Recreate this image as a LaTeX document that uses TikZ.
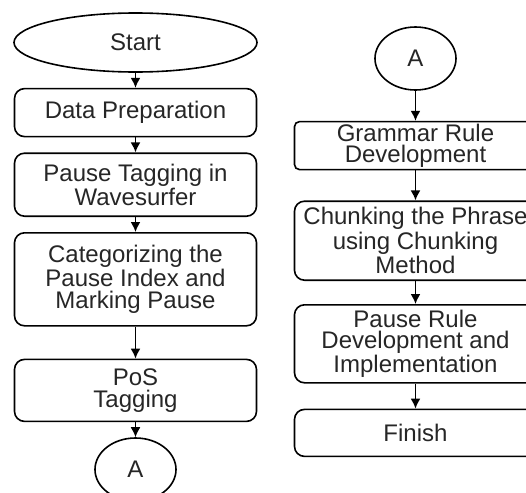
\documentclass[tikz,border=0pt]{standalone}
\usepackage{fontspec}
\setmainfont{Liberation Sans}
\usetikzlibrary{arrows.meta, positioning, shapes.geometric}

\begin{document}
\begin{tikzpicture}[x=0.5pt, y=-0.5pt, >={Latex[length=5pt,width=5pt]},
	every node/.style={draw, line width=0.8pt, align=center, inner sep=1pt,
		font=\fontsize{12}{10.8}\selectfont, text=black!85},
	procbox/.style={rectangle, rounded corners=5pt, minimum width=121pt},
	termnode/.style={ellipse, minimum width=121.5pt, minimum height=29.5pt},
	conn/.style={ellipse, minimum width=40.5pt, minimum height=31.5pt}]
			\useasboundingbox (0,0) rectangle (526,493);
			\clip (0,0) rectangle (526,493);
			% Left column
			\node[termnode] (start) at (135.5,42.5) {Start};
			\node[procbox, minimum height=24pt, below=7.5pt of start] (dataprep) {Data Preparation};
			\node[procbox, minimum height=31.5pt, below=7.5pt of dataprep] (pausetag) {Pause Tagging in\\Wavesurfer};
			\node[procbox, minimum height=46.5pt, below=7.5pt of pausetag] (categ) {Categorizing the\\Pause Index and\\Marking Pause};
			\node[procbox, minimum height=31pt, below=16pt of categ] (pos) {PoS\\Tagging};
			\node[conn] (connl) [below=7.5pt of pos] {A};
			% Right column
			\node[conn] (connr) at (415.5,58.5) {A};
			\node[procbox, rounded corners=2.5pt, minimum height=24pt, below=15pt of connr] (grammar) {Grammar Rule\\Development};
			\node[procbox, minimum height=39.5pt, below=15pt of grammar] (chunk) {Chunking the Phrase\\using Chunking\\Method};
			\node[procbox, minimum height=39pt, below=11.5pt of chunk] (pauserule) {Pause Rule\\Development and\\Implementation};
			\node[procbox, minimum height=23.5pt, below=12.5pt of pauserule] (finish) {Finish};
			% Edges
			\foreach \src/\dst in {start/dataprep,dataprep/pausetag,pausetag/categ,categ/pos,pos/connl,
				connr/grammar,grammar/chunk,chunk/pauserule,pauserule/finish}
			{\draw[->, line width=0.8pt] (\src) -- (\dst);}
		\end{tikzpicture}
\end{document}
